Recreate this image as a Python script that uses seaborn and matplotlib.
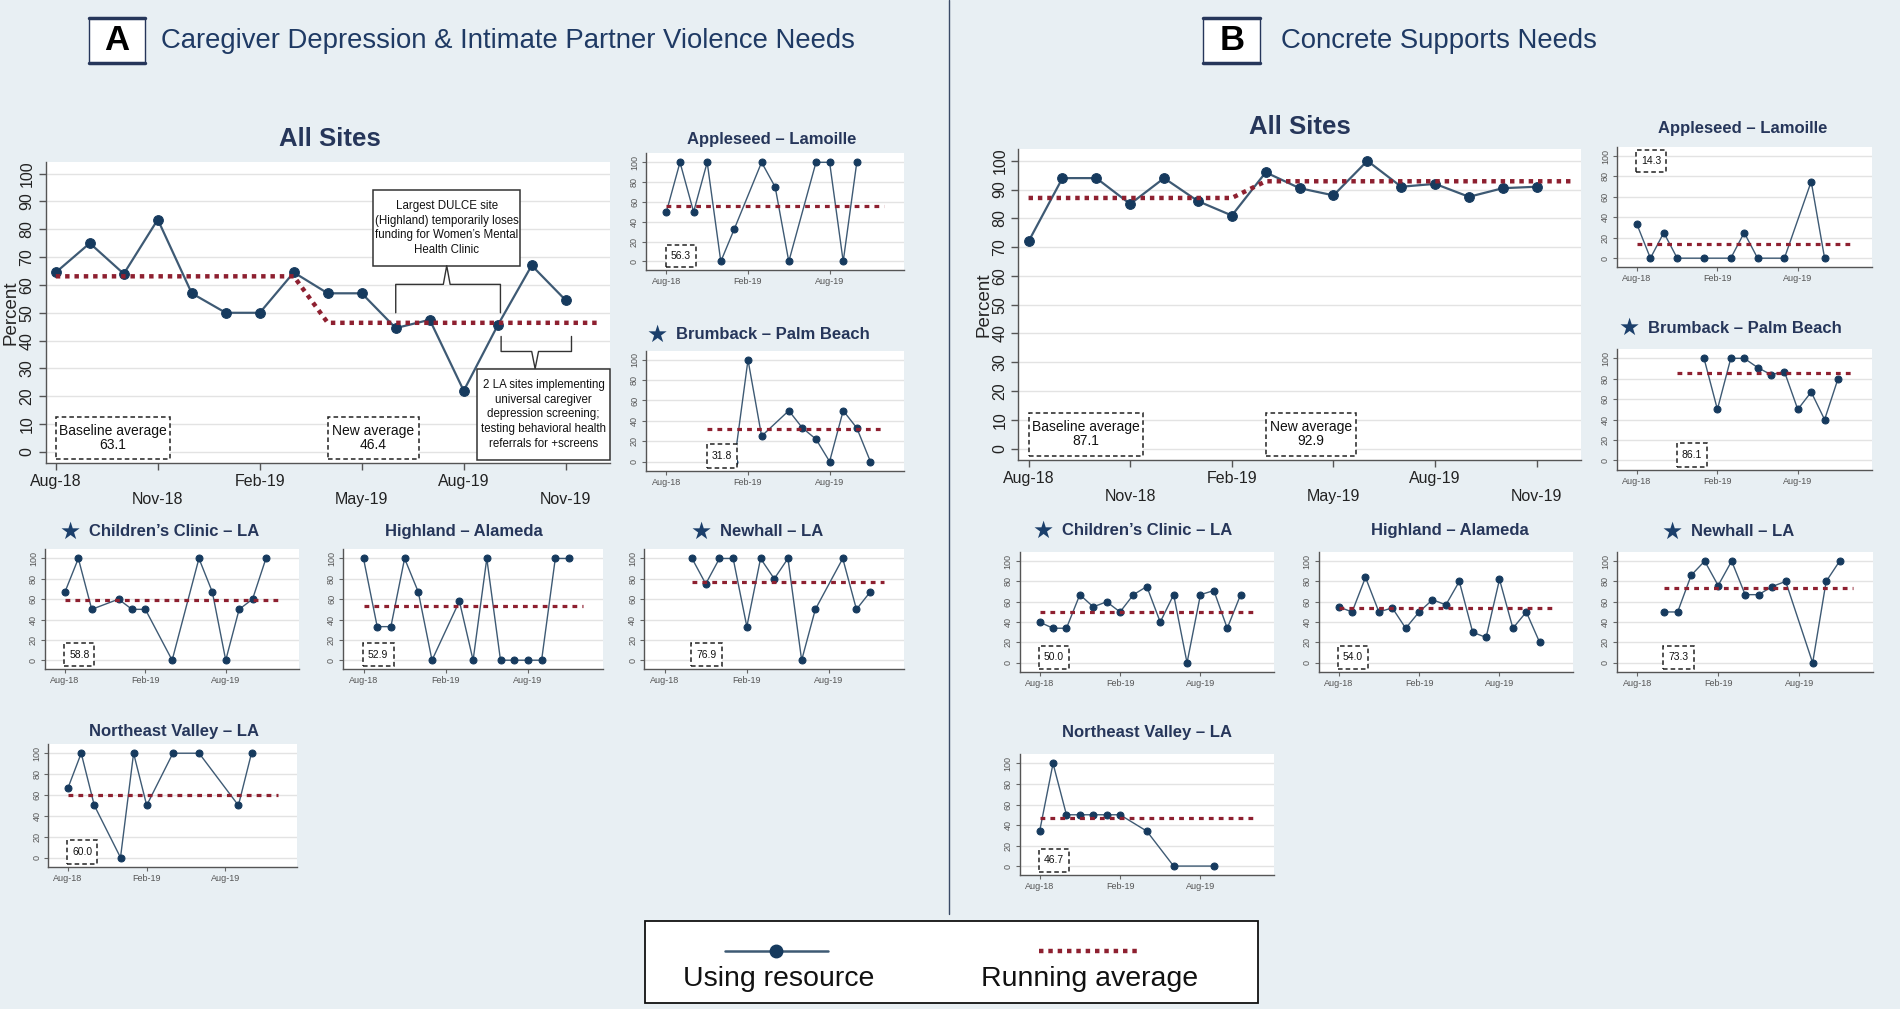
import numpy as np
import pandas as pd
import matplotlib.pyplot as plt
import seaborn as sns
from matplotlib.patches import Rectangle
from matplotlib.lines import Line2D

# month axis shared by every panel (index 0 = Aug-18)
months = ['Aug-18', 'Sep-18', 'Oct-18', 'Nov-18', 'Dec-18', 'Jan-19', 'Feb-19', 'Mar-19',
          'Apr-19', 'May-19', 'Jun-19', 'Jul-19', 'Aug-19', 'Sep-19', 'Oct-19', 'Nov-19', 'Dec-19']

# --- A: caregiver depression & IPV needs (percent using resource) ---
a_all = [64.5, 75, 64, 83.5, 57, 50, 50, 64.5, 57, 57, 44.5, 47.5, 22, 45.5, 67, 54.5]
a_all_avg = [63.1, 63.1, 63.1, 63.1, 63.1, 63.1, 63.1, 63.1,
             46.4, 46.4, 46.4, 46.4, 46.4, 46.4, 46.4, 46.4, 46.4]
a_baseline, a_new = 63.1, 46.4

a_apple = [50, 100, 50, 100, 0, 33, None, 100, 75, 0, None, 100, 100, 0, 100, None]
a_brum = [None, None, None, None, None, 0, 100, 25, None, 50, 33, 22, 0, 50, 33, 0]
a_child = [67, 100, 50, None, 60, 50, 50, None, 0, None, 100, 67, 0, 50, 60, 100]
a_high = [100, 33, 33, 100, 67, 0, None, 58, 0, 100, 0, 0, 0, 0, 100, 100]
a_new_ = [None, None, 100, 75, 100, 100, 33, 100, 80, 100, 0, 50, None, 100, 50, 67]
a_ne = [67, 100, 50, None, 0, 100, 50, None, 100, None, 100, None, None, 50, 100, None]
a_site_avg = [56.3, 31.8, 58.8, 52.9, 76.9, 60.0]
a_site_start = [0, 3, 0, 0, 2, 0]

# --- B: concrete supports needs ---
b_all = [72, 94, 94, 85, 94, 86, 81, 96, 90.5, 88, 100, 91, 92, 87.5, 90.5, 91]
b_all_avg = [87.1, 87.1, 87.1, 87.1, 87.1, 87.1, 87.1,
             92.9, 92.9, 92.9, 92.9, 92.9, 92.9, 92.9, 92.9, 92.9, 92.9]
b_baseline, b_new = 87.1, 92.9

b_apple = [33, 0, 25, 0, None, 0, None, 0, 25, 0, None, 0, None, 75, 0, None]
b_brum = [None, None, None, None, None, 100, 50, 100, 100, 91, 84, 87, 50, 67, 40, 80]
b_child = [40, 34, 34, 67, 55, 60, 50, 67, 75, 40, 67, 0, 67, 71, 34, 67]
b_high = [55, 50, 84, 50, 54, 34, 50, 62, 57, 80, 30, 25, 82, 34, 50, 20]
b_new_ = [None, None, 50, 50, 86, 100, 76, 100, 67, 67, 75, 80, None, 0, 80, 100]
b_ne = [34, 100, 50, 50, 50, 50, 50, None, 34, None, 0, None, None, 0, None, None]
b_site_avg = [14.3, 86.1, 50.0, 54.0, 73.3, 46.7]
b_site_start = [0, 3, 0, 0, 2, 0]

sns.set_theme(style='white')
plt.rcParams['font.family'] = ['Liberation Sans', 'DejaVu Sans']

BG = '#E8EFF3'
NAVY = '#26365A'
LINE = '#3E5A74'
DOT = '#163A5E'
RED = '#8E2030'

fig = plt.figure(figsize=(19, 10.09), dpi=100)
fig.patch.set_facecolor(BG)
renderer = fig.canvas.get_renderer()
FW = fig.get_figwidth() * fig.dpi


def draw_series(ax, vals, lw, ms):
    df = pd.DataFrame({'month': np.arange(len(vals)), 'pct': vals}).dropna()
    sns.lineplot(data=df, x='month', y='pct', ax=ax, color=LINE, lw=lw, marker='o',
                 markersize=ms, markerfacecolor=DOT, markeredgecolor=DOT)


def style_axes(ax, big):
    ax.set_facecolor('white')
    for s in ['top', 'right']:
        ax.spines[s].set_visible(False)
    for s in ['left', 'bottom']:
        ax.spines[s].set_color('#555555')
        ax.spines[s].set_linewidth(1.0)
    ax.yaxis.grid(True, color='#E3E3E3', lw=1)
    ax.set_axisbelow(True)
    ax.set_xlabel('')
    if big:
        ax.set_xlim(-0.3, 16.3)
        ax.set_ylim(-4, 104)
        ax.set_yticks(range(0, 101, 10))
        ticks = [0, 3, 6, 9, 12, 15]
        ax.set_xticks(ticks)
        ax.set_xticklabels([months[t] if i % 2 == 0 else '\n' + months[t] for i, t in enumerate(ticks)])
        ax.tick_params(axis='both', direction='out', length=5, width=1, color='#555555',
                       labelsize=11.5, labelcolor='#222222', left=True, bottom=True, pad=3)
        ax.set_ylabel('Percent', fontsize=13.5, labelpad=0)
    else:
        ax.set_xlim(-1.5, 17.5)
        ax.set_ylim(-9, 109)
        ax.set_yticks(range(0, 101, 20))
        ax.set_xticks([0, 6, 12])
        ax.set_xticklabels([months[0], months[6], months[12]])
        ax.tick_params(axis='both', direction='out', length=3, width=0.8, color='#666666',
                       labelsize=6.5, labelcolor='#555555', left=True, bottom=True, pad=2)
        ax.set_ylabel('')
    plt.setp(ax.get_yticklabels(), rotation=90, va='center')


def avg_box(ax, x0, y0, w, h, txt, size):
    ax.add_patch(Rectangle((x0, y0), w, h, fc='white', ec='#222222', lw=1.1,
                           ls=(0, (3, 2)), zorder=4))
    ax.text(x0 + w / 2, y0 + h / 2, txt, ha='center', va='center', fontsize=size,
            color='#111111', zorder=5, linespacing=1.0)


def title_with_star(xy, title, size, star):
    t = fig.text(xy[0], xy[1], title, ha='center', va='center', fontsize=size,
                 fontweight='bold', color=NAVY)
    if star:
        bb = t.get_window_extent(renderer=renderer)
        fig.text(bb.x0 / FW - 0.0045, xy[1], '\u2605', ha='right', va='center', fontsize=17,
                 color='#1B3F6B', family=['DejaVu Sans'])


def big_panel(rect, vals, run_avg, base, new, new_x, title, title_xy):
    ax = fig.add_axes(rect)
    draw_series(ax, vals, 1.6, 7)
    ax.plot(np.arange(len(run_avg)), run_avg, color=RED, lw=3.2, ls=(0, (1, 1.1)),
            dash_capstyle='butt', zorder=3)
    style_axes(ax, True)
    avg_box(ax, 0, -2.5, 3.37, 15, 'Baseline average\n%.1f' % base, 10)
    avg_box(ax, new_x, -2.5, 2.67, 15, 'New average\n%.1f' % new, 10)
    title_with_star(title_xy, title, 18.5, False)
    return ax


def small_panel(rect, vals, avg, start, title, title_xy, star=False, box_top=False):
    ax = fig.add_axes(rect)
    draw_series(ax, vals, 1.0, 5)
    ax.plot([start, 16], [avg, avg], color=RED, lw=2.3, ls=(0, (1.5, 1.6)),
            dash_capstyle='butt', zorder=3)
    style_axes(ax, False)
    if box_top:
        avg_box(ax, start - 0.05, 84, 2.25, 22, '%.1f' % avg, 7.5)
    else:
        avg_box(ax, start - 0.05, -6, 2.25, 23, '%.1f' % avg, 7.5)
    title_with_star(title_xy, title, 12, star)
    return ax


# ---------------- panel A ----------------
axA = big_panel([0.024, 0.541, 0.297, 0.298], a_all, a_all_avg, a_baseline, a_new, 8.0,
                'All Sites', (0.1735, 0.862))

# callout 1
axA.add_patch(Rectangle((9.34, 66.9), 4.33, 27.3, fc='white', ec='#333333', lw=1.1, zorder=4))
axA.text(11.5, 80.5, 'Largest DULCE site\n(Highland) temporarily loses\nfunding for Women\u2019s Mental\nHealth Clinic',
         ha='center', va='center', fontsize=8.3, color='#111111', zorder=5, linespacing=1.3)
axA.plot([10.0, 10.0, 11.4, 11.5, 11.6, 13.08, 13.08], [50, 60.2, 60.2, 66.9, 60.2, 60.2, 50],
         color='#333333', lw=1.0, zorder=4)
# callout 2
axA.plot([13.1, 13.1, 14.0, 14.1, 14.2, 15.17, 15.17], [41.5, 36.1, 36.1, 29.9, 36.1, 36.1, 41.5],
         color='#333333', lw=1.0, zorder=4)
axA.add_patch(Rectangle((12.4, -2.9), 3.9, 32.8, fc='white', ec='#333333', lw=1.1, zorder=4,
                        clip_on=False))
axA.text(14.35, 13.5, '2 LA sites implementing\nuniversal caregiver\ndepression screening;\ntesting behavioral health\nreferrals for +screens',
         ha='center', va='center', fontsize=8.3, color='#111111', zorder=5, linespacing=1.3)

a_specs = [
    (a_apple, [0.340, 0.732, 0.136, 0.116], 'Appleseed \u2013 Lamoille', (0.4062, 0.8613), False),
    (a_brum, [0.340, 0.5335, 0.136, 0.119], 'Brumback \u2013 Palm Beach', (0.4069, 0.668), True),
    (a_child, [0.0236, 0.3366, 0.134, 0.119], 'Children\u2019s Clinic \u2013 LA', (0.0918, 0.473), True),
    (a_high, [0.1805, 0.3366, 0.137, 0.119], 'Highland \u2013 Alameda', (0.2443, 0.473), False),
    (a_new_, [0.339, 0.3366, 0.137, 0.119], 'Newhall \u2013 LA', (0.4062, 0.473), True),
    (a_ne, [0.0255, 0.1408, 0.131, 0.122], 'Northeast Valley \u2013 LA', (0.0918, 0.2749), False),
]
for i, (vals, rect, title, txy, st) in enumerate(a_specs):
    small_panel(rect, vals, a_site_avg[i], a_site_start[i], title, txy, st)

# ---------------- panel B ----------------
axB = big_panel([0.536, 0.544, 0.296, 0.308], b_all, b_all_avg, b_baseline, b_new, 7.0,
                'All Sites', (0.6843, 0.874))

b_specs = [
    (b_apple, [0.851, 0.735, 0.134, 0.1195], 'Appleseed \u2013 Lamoille', (0.9171, 0.8729), False),
    (b_brum, [0.851, 0.5345, 0.134, 0.1195], 'Brumback \u2013 Palm Beach', (0.9184, 0.6747), True),
    (b_child, [0.5366, 0.334, 0.134, 0.119], 'Children\u2019s Clinic \u2013 LA', (0.604, 0.4742), True),
    (b_high, [0.694, 0.334, 0.134, 0.119], 'Highland \u2013 Alameda', (0.7633, 0.4742), False),
    (b_new_, [0.851, 0.334, 0.135, 0.119], 'Newhall \u2013 LA', (0.9171, 0.4732), True),
    (b_ne, [0.5366, 0.1325, 0.134, 0.120], 'Northeast Valley \u2013 LA', (0.6039, 0.2737), False),
]
for i, (vals, rect, title, txy, st) in enumerate(b_specs):
    small_panel(rect, vals, b_site_avg[i], b_site_start[i], title, txy, st, box_top=(i == 0))

# ---------------- headers ----------------
for x0, letter, text_x, text in [(0.0466, 'A', 0.0848, 'Caregiver Depression & Intimate Partner Violence Needs'),
                                 (0.6333, 'B', 0.674, 'Concrete Supports Needs')]:
    fig.add_artist(Rectangle((x0, 0.9376), 0.0299, 0.0444, transform=fig.transFigure,
                             fc='white', ec=NAVY, lw=1.0))
    fig.add_artist(Line2D([x0, x0 + 0.0299], [0.982, 0.982], transform=fig.transFigure, color=NAVY, lw=2.5))
    fig.add_artist(Line2D([x0, x0 + 0.0299], [0.9376, 0.9376], transform=fig.transFigure, color=NAVY, lw=2.5))
    fig.text(x0 + 0.015, 0.9598, letter, ha='center', va='center', fontsize=25,
             fontweight='bold', color='black')
    fig.text(text_x, 0.9598, text, ha='left', va='center', fontsize=19.8, color='#1F3A64')

# divider
fig.add_artist(Line2D([0.4994, 0.4994], [0.094, 1.0], transform=fig.transFigure, color='#3A4A66', lw=1.0))

# ---------------- legend ----------------
fig.add_artist(Rectangle((0.3393, 0.006), 0.3227, 0.0816, transform=fig.transFigure,
                         fc='white', ec='#111111', lw=1.3))
fig.add_artist(Line2D([0.3814, 0.4356], [0.0576, 0.0576], transform=fig.transFigure, color=LINE, lw=1.8))
fig.add_artist(Line2D([0.4085], [0.0576], transform=fig.transFigure, marker='o', markersize=9,
                      color=DOT, lw=0))
fig.add_artist(Line2D([0.547, 0.5995], [0.0576, 0.0576], transform=fig.transFigure, color=RED, lw=3.2,
                      ls=(0, (1, 1.1)), dash_capstyle='butt'))
fig.text(0.410, 0.030, 'Using resource', ha='center', va='center', fontsize=20.5, color='#111111')
fig.text(0.5733, 0.030, 'Running average', ha='center', va='center', fontsize=20.5, color='#111111')

fig.savefig('out.png', dpi=100, facecolor=BG)
